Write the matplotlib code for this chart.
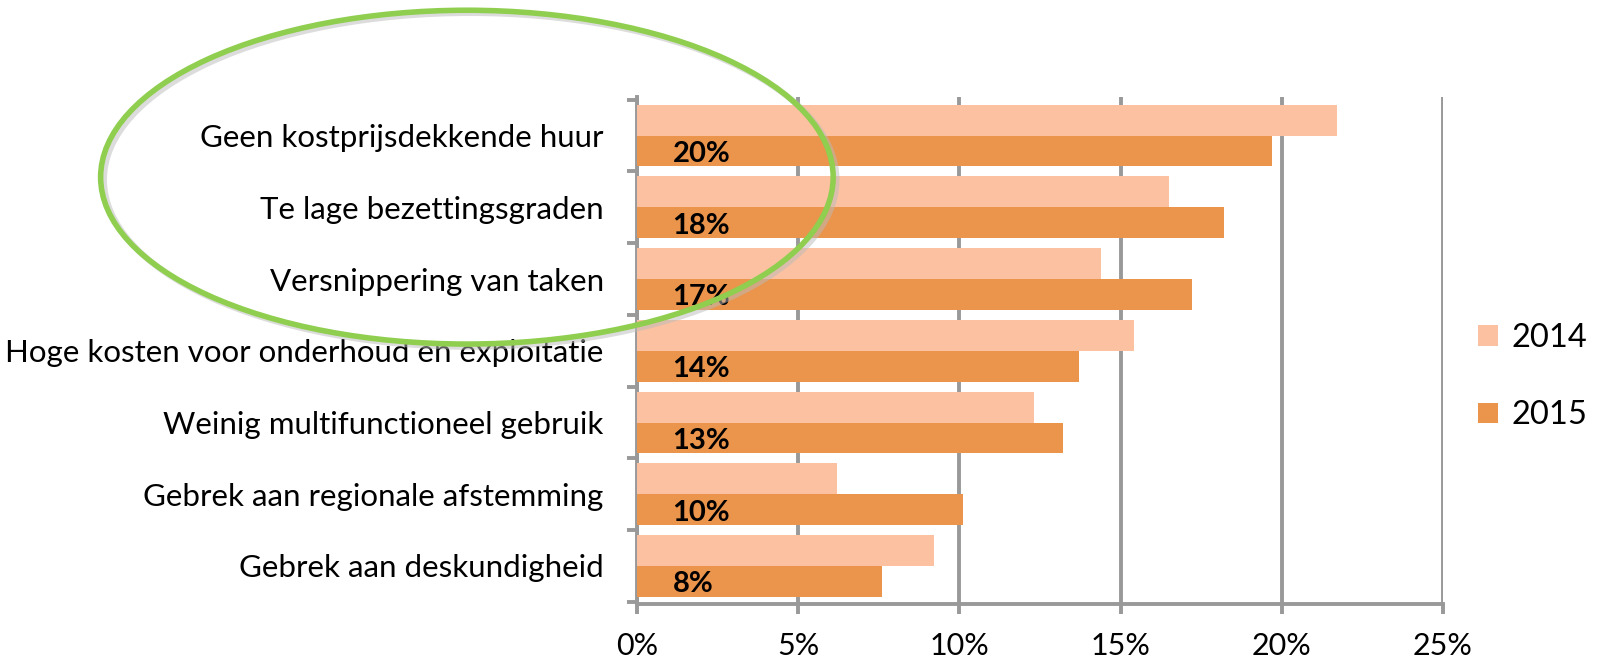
import numpy as np
import matplotlib.pyplot as plt
from matplotlib.patches import Ellipse
from matplotlib.ticker import MultipleLocator, FuncFormatter

categories = [
    'Geen kostprijsdekkende huur',
    'Te lage bezettingsgraden',
    'Versnippering van taken',
    'Hoge kosten voor onderhoud en exploitatie',
    'Weinig multifunctioneel gebruik',
    'Gebrek aan regionale afstemming',
    'Gebrek aan deskundigheid',
]
values_2014 = [21.7, 16.5, 14.4, 15.4, 12.3, 6.2, 9.2]
values_2015 = [19.7, 18.2, 17.2, 13.7, 13.2, 10.1, 7.6]
labels_2015 = ['20%', '18%', '17%', '14%', '13%', '10%', '8%']

plt.rcParams['font.family'] = ['Lato', 'DejaVu Sans']

c14 = '#fcc1a0'
c15 = '#eb944b'
grid_c = '#999999'

fig = plt.figure(figsize=(16.1, 6.61), dpi=100)
ax = fig.add_axes([0.3957, 0.0862, 0.5006, 0.7663])

y = np.arange(len(categories))
h = 0.43
ax.barh(y - h / 2, values_2014, height=h, color=c14, label='2014', zorder=3)
ax.barh(y + h / 2, values_2015, height=h, color=c15, label='2015', zorder=3)

for yi, lab in zip(y, labels_2015):
    ax.text(1.1, yi + h / 2 + 0.04, lab, va='center', ha='left',
            fontsize=21, fontweight='bold', color='black', zorder=4)

ax.set_xlim(0, 25)
ax.set_ylim(len(categories) - 0.47, -0.53)
ax.xaxis.set_major_locator(MultipleLocator(5))
ax.xaxis.set_major_formatter(FuncFormatter(lambda v, p: f'{v:.0f}%'))
ax.grid(axis='x', color=grid_c, linewidth=2.8, zorder=0)
ax.set_axisbelow(True)

ax.set_yticks(y)
ax.set_yticklabels(categories, fontsize=22.5)
ax.set_yticks(np.arange(len(categories) + 1) - 0.5, minor=True)
ax.tick_params(axis='y', which='major', length=0, pad=24)
ax.tick_params(axis='y', which='minor', length=7, width=2.8, color=grid_c)
ax.tick_params(axis='x', length=7, width=2.8, color=grid_c, labelsize=22, pad=13)

for s in ['top', 'right']:
    ax.spines[s].set_visible(False)
for s in ['left', 'bottom']:
    ax.spines[s].set_color(grid_c)
    ax.spines[s].set_linewidth(2.8)

leg = fig.legend(loc='center left', bbox_to_anchor=(0.9, 0.43), frameon=False,
                 fontsize=23.5, handlelength=0.6, handleheight=0.6,
                 handletextpad=0.4, labelspacing=1.45)

# green highlight ring
shadow = Ellipse((0.292, 0.728), 0.455, 0.505, transform=fig.transFigure,
                 fill=False, edgecolor='#bbbbbb', linewidth=4.5, alpha=0.5)
fig.add_artist(shadow)
ring = Ellipse((0.290, 0.732), 0.455, 0.505, transform=fig.transFigure,
               fill=False, edgecolor='#8fce4f', linewidth=4)
fig.add_artist(ring)

fig.savefig('out.png', dpi=100)
